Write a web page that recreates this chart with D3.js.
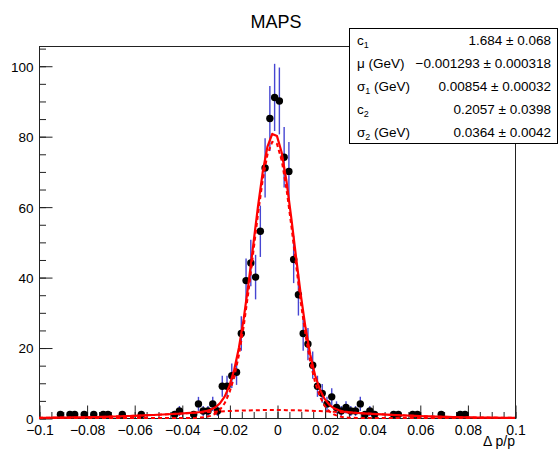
<!DOCTYPE html>
<html>
<head>
<meta charset="utf-8">
<script src="https://cdn.jsdelivr.net/npm/d3@7"></script>
<style>
  html, body { margin: 0; padding: 0; background: #fff; }
  svg { display: block; font-family: "Liberation Sans", Arial, Helvetica, sans-serif; }
</style>
</head>
<body>
<svg id="chart" width="558" height="454"></svg>
<script>
// Histogram of Δp/p (bin width 0.002, only non-empty bins listed)
const binCenters = [
  -0.091, -0.087, -0.085, -0.081, -0.077, -0.073, -0.071, -0.065, -0.057,
  -0.043, -0.041,
  -0.035, -0.033, -0.031, -0.029, -0.027, -0.025, -0.023, -0.021, -0.019,
  -0.017, -0.015, -0.013, -0.011, -0.009, -0.007, -0.005, -0.003, -0.001,
  0.001, 0.003, 0.005, 0.007, 0.009, 0.011, 0.013, 0.015, 0.017, 0.019,
  0.021, 0.023, 0.025, 0.027, 0.029, 0.031, 0.033, 0.035, 0.037, 0.039, 0.041,
  0.049, 0.051, 0.057, 0.059, 0.069, 0.077, 0.079
];
const binCounts = [
  1, 1, 1, 1, 1, 1, 1, 1, 1,
  1, 2,
  1, 4, 2, 2, 4, 2, 9, 9, 12,
  13, 24, 39, 44, 40, 53, 71, 85, 91,
  90, 74, 70, 45, 35, 24, 21, 15, 9, 7,
  4, 6, 3, 2, 3, 2, 2, 4, 1, 2, 1,
  1, 1, 1, 1, 1, 1, 1
];

// Double-Gaussian fit parameters (common mean)
const fitNames  = ["c1", "mu", "sigma1", "c2", "sigma2"];
const fitValues = [1.684, -0.001293, 0.00854, 0.2057, 0.0364];
const fitLabels = [
  ["c", "1", ""],
  ["μ (GeV)", "", ""],
  ["σ", "1", " (GeV)"],
  ["c", "2", ""],
  ["σ", "2", " (GeV)"]
];
const fitTexts = [
  "1.684 ± 0.068",
  "−0.001293 ± 0.000318",
  "0.00854 ± 0.00032",
  "0.2057 ± 0.0398",
  "0.0364 ± 0.0042"
];

// Axis ticks
const xMajorTicks = [-0.1, -0.08, -0.06, -0.04, -0.02, 0, 0.02, 0.04, 0.06, 0.08, 0.1];
const xTickLabels = ["−0.1", "−0.08", "−0.06", "−0.04", "−0.02", "0", "0.02", "0.04", "0.06", "0.08", "0.1"];
const yMajorTicks = [0, 20, 40, 60, 80, 100];
const yTickLabels = ["0", "20", "40", "60", "80", "100"];
const xRange = [-0.1, 0.1];
const yMax = 105.6;

const svg = d3.select("#chart");
const L = 39, R = 515, T = 46, B = 418;

const x = d3.scaleLinear().domain(xRange).range([L, R]);
const y = d3.scaleLinear().domain([0, yMax]).range([B, T]);

// Title
svg.append("text")
  .attr("x", 276).attr("y", 28)
  .attr("text-anchor", "middle")
  .attr("font-size", 18)
  .attr("fill", "#000")
  .text("MAPS");

// Frame
svg.append("rect")
  .attr("x", L + 0.5).attr("y", T + 0.5)
  .attr("width", R - L).attr("height", B - T)
  .attr("fill", "none").attr("stroke", "#222").attr("stroke-width", 1);

// X axis: minor ticks every 0.005, major every 0.02, drawn upward
const xMinor = d3.range(-0.1, 0.1001, 0.005);
const xAxisMinor = d3.axisBottom(x).tickValues(xMinor).tickSize(-6.5).tickFormat("");
const xAxisMajor = d3.axisBottom(x).tickValues(xMajorTicks).tickSize(-13)
  .tickFormat((d, i) => xTickLabels[i]).tickPadding(20);

const gxMinor = svg.append("g").attr("transform", `translate(0.5,${B + 0.5})`).call(xAxisMinor);
const gxMajor = svg.append("g").attr("transform", `translate(0.5,${B + 0.5})`).call(xAxisMajor);
[gxMinor, gxMajor].forEach(g => {
  g.select(".domain").remove();
  g.selectAll("line").attr("stroke", "#222");
});
gxMajor.selectAll("text")
  .attr("font-size", 14).attr("fill", "#000")
  .attr("font-family", "Liberation Sans, Arial, sans-serif")
  .attr("dy", 0).attr("y", 16);

// Y axis: minor every 5, major every 20, drawn inward
const yMinor = d3.range(0, yMax, 5);
const yAxisMinor = d3.axisLeft(y).tickValues(yMinor).tickSize(-6.5).tickFormat("");
const yAxisMajor = d3.axisLeft(y).tickValues(yMajorTicks).tickSize(-13)
  .tickFormat((d, i) => yTickLabels[i]).tickPadding(6);
const gyMinor = svg.append("g").attr("transform", `translate(${L + 0.5},0.5)`).call(yAxisMinor);
const gyMajor = svg.append("g").attr("transform", `translate(${L + 0.5},0.5)`).call(yAxisMajor);
[gyMinor, gyMajor].forEach(g => {
  g.select(".domain").remove();
  g.selectAll("line").attr("stroke", "#222");
});
gyMajor.selectAll("text")
  .attr("font-size", 13.5).attr("fill", "#000")
  .attr("font-family", "Liberation Sans, Arial, sans-serif")
  .attr("x", -6).attr("dy", "0.36em");

// X axis title
svg.append("text")
  .attr("x", R).attr("y", 446)
  .attr("text-anchor", "end")
  .attr("font-size", 14)
  .text("Δ p/p");

// Data: Poisson error bars then markers
const bins = binCenters.map((c, i) => ({ c, n: binCounts[i], e: Math.sqrt(binCounts[i]) }));

svg.append("g").selectAll("line").data(bins).join("line")
  .attr("x1", d => x(d.c)).attr("x2", d => x(d.c))
  .attr("y1", d => y(d.n - d.e)).attr("y2", d => y(d.n + d.e))
  .attr("stroke", "#4646d2").attr("stroke-width", 1.4);

svg.append("g").selectAll("circle").data(bins).join("circle")
  .attr("cx", d => x(d.c)).attr("cy", d => y(d.n))
  .attr("r", 3.7).attr("fill", "#000");

// Fit functions, sampled like ROOT (100 steps across the axis range)
const [c1, mu, s1, c2, s2] = fitValues;
const gaussN = (v, m, s) => Math.exp(-0.5 * ((v - m) / s) ** 2) / (Math.sqrt(2 * Math.PI) * s);
const narrow = v => c1 * gaussN(v, mu, s1);
const broad  = v => c2 * gaussN(v, mu, s2);
const total  = v => narrow(v) + broad(v);
const samples = d3.range(0, 101).map(i => xRange[0] + i * (xRange[1] - xRange[0]) / 100);

const line = f => d3.line().x(v => x(v)).y(v => y(f(v)))(samples);

svg.append("path").attr("d", line(narrow))
  .attr("fill", "none").attr("stroke", "#ff0000").attr("stroke-width", 2)
  .attr("stroke-dasharray", "4,3");
svg.append("path").attr("d", line(broad))
  .attr("fill", "none").attr("stroke", "#ff0000").attr("stroke-width", 2)
  .attr("stroke-dasharray", "4,3");
svg.append("path").attr("d", line(total))
  .attr("fill", "none").attr("stroke", "#ff0000").attr("stroke-width", 2.2)
  .attr("stroke-linejoin", "round");

// Statistics box with fit results
const bx = 349, by = 28, bw = 208, bh = 115;
const box = svg.append("g");
box.append("rect")
  .attr("x", bx + 0.5).attr("y", by + 0.5).attr("width", bw).attr("height", bh)
  .attr("fill", "#fff").attr("stroke", "#000").attr("stroke-width", 1);

const rowH = bh / fitLabels.length;
fitLabels.forEach((lab, i) => {
  const yy = by + rowH * (i + 0.5) + 5;
  const t = box.append("text").attr("x", bx + 8).attr("y", yy).attr("font-size", 13.5);
  t.append("tspan").text(lab[0]);
  if (lab[1]) {
    t.append("tspan").attr("font-size", 9).attr("dy", 3.5).text(lab[1]);
    t.append("tspan").attr("dy", -3.5).text(lab[2]);
  }
  box.append("text").attr("x", bx + bw - 6).attr("y", yy)
    .attr("text-anchor", "end").attr("font-size", 13.5)
    .text(fitTexts[i]);
});
</script>
</body>
</html>
